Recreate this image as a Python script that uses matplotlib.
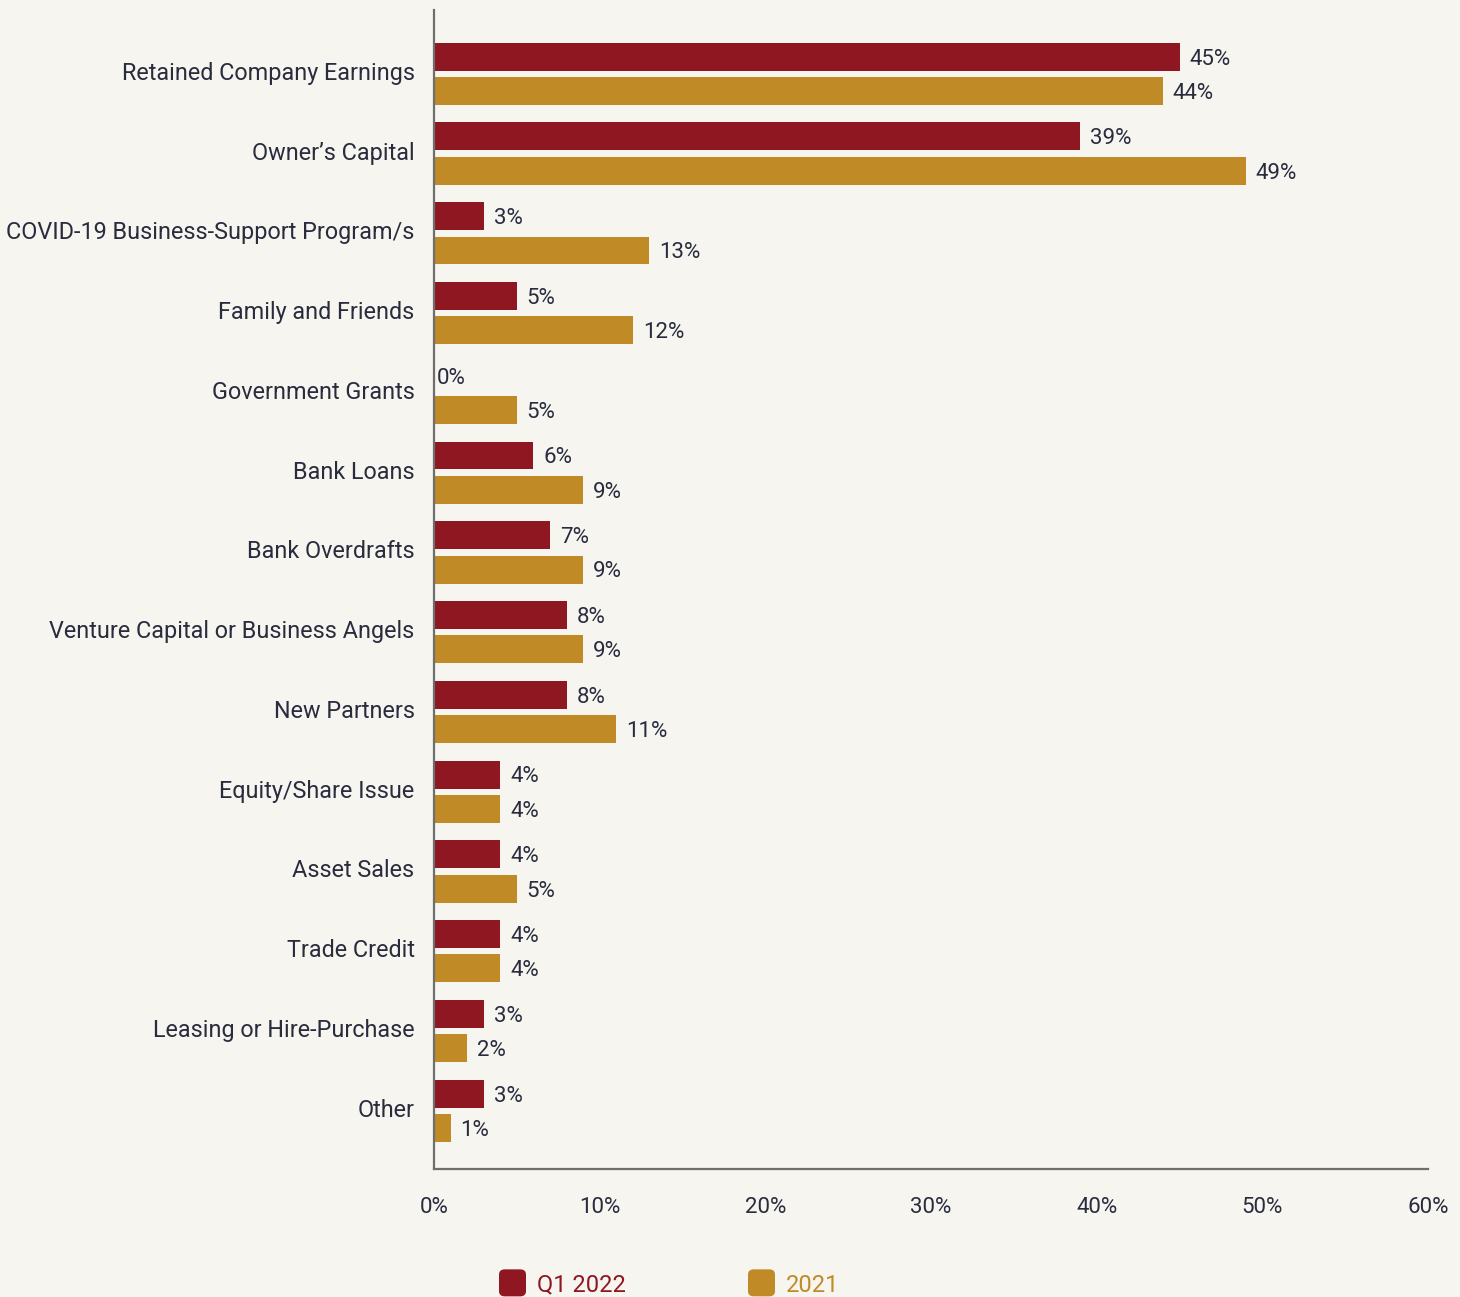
import matplotlib.pyplot as plt
import matplotlib.transforms as mtransforms
import numpy as np
from matplotlib.patches import FancyBboxPatch

categories = ['Retained Company Earnings', 'Owner\u2019s Capital', 'COVID-19 Business-Support Program/s',
              'Family and Friends', 'Government Grants', 'Bank Loans', 'Bank Overdrafts',
              'Venture Capital or Business Angels', 'New Partners', 'Equity/Share Issue',
              'Asset Sales', 'Trade Credit', 'Leasing or Hire-Purchase', 'Other']
q1_2022 = [45, 39, 3, 5, 0, 6, 7, 8, 8, 4, 4, 4, 3, 3]
y2021 = [44, 49, 13, 12, 5, 9, 9, 9, 11, 4, 5, 4, 2, 1]
xticks = [0, 10, 20, 30, 40, 50, 60]

RED = '#8E1722'
GOLD = '#C08B26'
BG = '#F7F5F0'
INK = '#282C3D'

plt.rcParams['font.family'] = ['Roboto', 'DejaVu Sans']

fig = plt.figure(figsize=(14.6, 12.97), dpi=100, facecolor=BG)
ax = fig.add_axes([434 / 1460, 1 - 1169 / 1297, (1428 - 434) / 1460, (1169 - 10) / 1297])
ax.set_facecolor(BG)

y = np.arange(len(categories))
h = 0.35
off = 0.215
b1 = ax.barh(y - off, q1_2022, height=h, color=RED)
b2 = ax.barh(y + off, y2021, height=h, color=GOLD)

for bars, vals in ((b1, q1_2022), (b2, y2021)):
    for bar, v in zip(bars, vals):
        ax.text(v + 0.6 if v > 0 else 0.15, bar.get_y() + bar.get_height() / 2 + 0.03, f'{v}%',
                va='center', ha='left', fontsize=16, color=INK)

ax.set_xlim(0, 60)
ax.set_ylim(13.73, -0.80)
ax.set_yticks(y)
ax.set_yticklabels(categories, fontsize=16.8, color=INK)
ax.set_xticks(xticks)
ax.set_xticklabels([f'{t}%' for t in xticks], fontsize=16, color=INK)
ax.tick_params(axis='y', length=0, pad=14)
ax.tick_params(axis='x', length=0, pad=20)
# nudge category labels up slightly
shift = mtransforms.ScaledTranslation(0, 3 / 100, fig.dpi_scale_trans)
for lbl in ax.get_yticklabels():
    lbl.set_transform(lbl.get_transform() + shift)
for s in ('top', 'right'):
    ax.spines[s].set_visible(False)
for s in ('left', 'bottom'):
    ax.spines[s].set_color('#6E6E6E')
    ax.spines[s].set_linewidth(1.6)

# legend drawn with rounded swatches
for x0, col, lab in ((499, RED, 'Q1 2022'), (748, GOLD, '2021')):
    fig.patches.append(FancyBboxPatch((x0 / 1460, 0.0005), 27 / 1460, 27 / 1297,
                                      boxstyle='round,pad=0,rounding_size=0.004',
                                      transform=fig.transFigure, facecolor=col, edgecolor='none'))
    fig.text((x0 + 38) / 1460, 1 - 1285 / 1297, lab, color=col, fontsize=17, va='center', ha='left')

fig.savefig('out.png', dpi=100, facecolor=BG)
